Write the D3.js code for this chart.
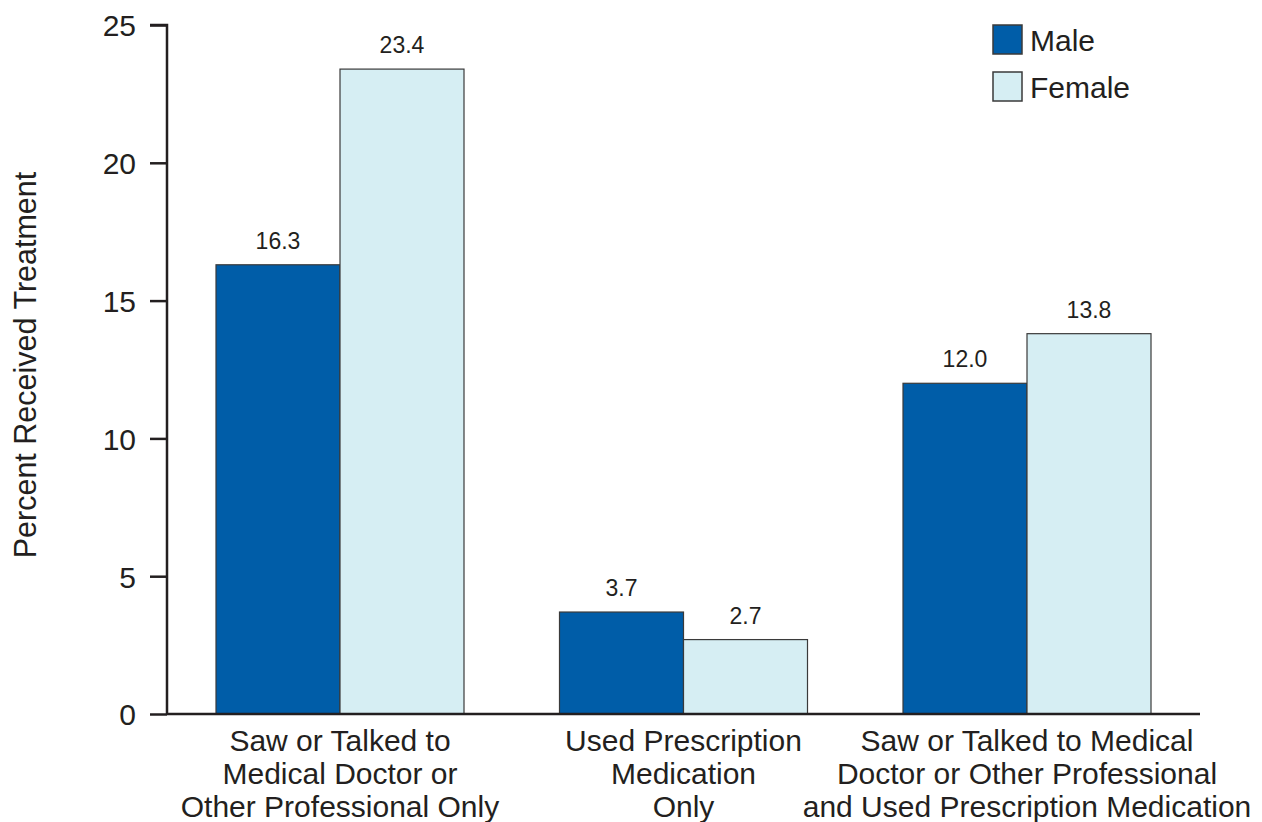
<!DOCTYPE html>
<html>
<head>
<meta charset="utf-8">
<script src="https://cdn.jsdelivr.net/npm/d3@7"></script>
<style>
  body { margin: 0; background: #fff; }
  text { font-family: "Liberation Sans", Arial, sans-serif; fill: #231f20; }
</style>
</head>
<body>
<svg width="1262" height="822"></svg>
<script>
const categories = [
    ['Saw or Talked to', 'Medical Doctor or', 'Other Professional Only'],
    ['Used Prescription', 'Medication', 'Only'],
    ['Saw or Talked to Medical', 'Doctor or Other Professional', 'and Used Prescription Medication']
];
const seriesNames = ['Male', 'Female'];
const maleValues = [16.3, 3.7, 12.0];
const femaleValues = [23.4, 2.7, 13.8];
const yTicks = [0, 5, 10, 15, 20, 25];
const colors = ['#005da8', '#d6eef3'];

const ink = '#231f20';
const svg = d3.select('svg');

const yScale = d3.scaleLinear()
    .domain([0, 25])
    .range([714, 25]);

const xScale = d3.scaleBand()
    .domain(d3.range(categories.length))
    .range([168.25, 1198.75])
    .paddingInner(0.278)
    .paddingOuter(0.139);

const sub = d3.scaleBand()
    .domain(seriesNames)
    .range([0, xScale.bandwidth()]);

const rows = categories.map((c, i) => ({ i, values: [maleValues[i], femaleValues[i]] }));

// bars
const groups = svg.selectAll('.grp')
    .data(rows)
    .enter().append('g')
    .attr('class', 'grp')
    .attr('transform', d => `translate(${xScale(d.i)},0)`);

groups.selectAll('rect')
    .data(d => d.values.map((v, k) => ({ v, k })))
    .enter().append('rect')
    .attr('x', d => sub(seriesNames[d.k]))
    .attr('y', d => yScale(d.v))
    .attr('width', sub.bandwidth())
    .attr('height', d => yScale(0) - yScale(d.v))
    .attr('fill', d => colors[d.k])
    .attr('stroke', '#3a3a3a')
    .attr('stroke-width', 1.2);

groups.selectAll('.val')
    .data(d => d.values.map((v, k) => ({ v, k })))
    .enter().append('text')
    .attr('class', 'val')
    .attr('x', d => sub(seriesNames[d.k]) + sub.bandwidth() / 2)
    .attr('y', d => yScale(d.v) - 16)
    .attr('text-anchor', 'middle')
    .attr('font-size', '23px')
    .text(d => d.v.toFixed(1));

// y axis
const yAxis = svg.append('g')
    .attr('transform', 'translate(167,0)')
    .call(d3.axisLeft(yScale).tickValues(yTicks).tickSize(17).tickPadding(14));
yAxis.select('.domain').attr('stroke', ink).attr('stroke-width', 2.5).attr('d', `M-17,${yScale(25)}H0V${yScale(0)}`);
yAxis.selectAll('.tick line').attr('stroke', ink).attr('stroke-width', 2.5);
yAxis.selectAll('.tick text')
    .attr('font-size', '30px')
    .attr('font-family', '"Liberation Sans", Arial, sans-serif')
    .attr('fill', ink)
    .attr('dy', '0.36em');

// x axis line
svg.append('line')
    .attr('x1', 167).attr('x2', 1200)
    .attr('y1', yScale(0)).attr('y2', yScale(0))
    .attr('stroke', ink).attr('stroke-width', 2.5);

// category labels
svg.selectAll('.cat')
    .data(categories)
    .enter().append('text')
    .attr('class', 'cat')
    .attr('text-anchor', 'middle')
    .attr('font-size', '30px')
    .attr('x', (d, i) => xScale(i) + xScale.bandwidth() / 2)
    .attr('y', 751)
    .selectAll('tspan')
    .data(d => d)
    .enter().append('tspan')
    .attr('x', function () { return this.parentNode.getAttribute('x'); })
    .attr('dy', (d, i) => i === 0 ? 0 : 33)
    .text(d => d);

// y title
svg.append('text')
    .attr('transform', 'translate(36,365) rotate(-90)')
    .attr('text-anchor', 'middle')
    .attr('font-size', '30.5px')
    .text('Percent Received Treatment');

// legend
const legend = svg.selectAll('.leg')
    .data(seriesNames)
    .enter().append('g')
    .attr('class', 'leg')
    .attr('transform', (d, i) => `translate(993,${25 + i * 47})`);

legend.append('rect')
    .attr('width', 29).attr('height', 29)
    .attr('fill', (d, i) => colors[i])
    .attr('stroke', '#3a3a3a').attr('stroke-width', 1.5);

legend.append('text')
    .attr('x', 37).attr('y', 26)
    .attr('font-size', '30px')
    .text(d => d);
</script>
</body>
</html>
